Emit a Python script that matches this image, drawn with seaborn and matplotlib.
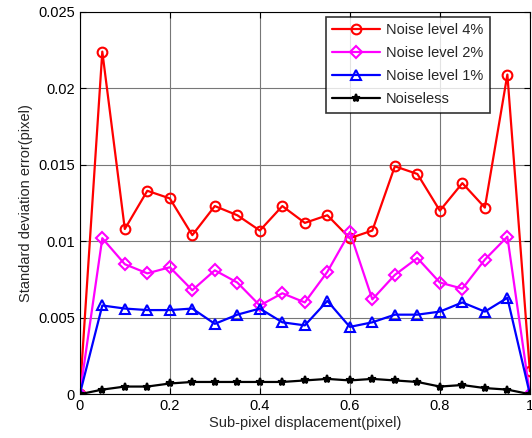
import matplotlib
matplotlib.use("Agg")
import matplotlib.pyplot as plt
import seaborn as sns
import numpy as np

x = [0, 0.05, 0.1, 0.15, 0.2, 0.25, 0.3, 0.35, 0.4, 0.45, 0.5,
     0.55, 0.6, 0.65, 0.7, 0.75, 0.8, 0.85, 0.9, 0.95, 1.0]
noise4 = [0, 0.0224, 0.0108, 0.0133, 0.0128, 0.0104, 0.0123, 0.0117, 0.0107, 0.0123, 0.0112,
          0.0117, 0.0102, 0.0107, 0.0149, 0.0144, 0.0120, 0.0138, 0.0122, 0.0209, 0.0015]
noise2 = [0, 0.0102, 0.0085, 0.0079, 0.0083, 0.0068, 0.0081, 0.0073, 0.0058, 0.0066, 0.0060,
          0.0080, 0.0106, 0.0062, 0.0078, 0.0089, 0.0073, 0.0069, 0.0088, 0.0103, 0.0]
noise1 = [0, 0.0058, 0.0056, 0.0055, 0.0055, 0.0056, 0.0046, 0.0052, 0.0056, 0.0047, 0.0045,
          0.0061, 0.0044, 0.0047, 0.0052, 0.0052, 0.0054, 0.0060, 0.0054, 0.0063, 0.0]
noiseless = [0, 0.0003, 0.0005, 0.0005, 0.0007, 0.0008, 0.0008, 0.0008, 0.0008, 0.0008, 0.0009,
             0.0010, 0.0009, 0.0010, 0.0009, 0.0008, 0.0005, 0.0006, 0.0004, 0.0003, 0.0]
labels = ["Noise level 4%", "Noise level 2%", "Noise level 1%", "Noiseless"]
xticks = [0, 0.2, 0.4, 0.6, 0.8, 1]
xticklabels = ["0", "0.2", "0.4", "0.6", "0.8", "1"]
yticks = [0, 0.005, 0.01, 0.015, 0.02, 0.025]
yticklabels = ["0", "0.005", "0.01", "0.015", "0.02", "0.025"]

sns.set_style("ticks")
plt.rcParams['font.family'] = ['Liberation Sans', 'DejaVu Sans']

fig = plt.figure(figsize=(5.32, 4.38), dpi=100)
ax = fig.add_axes([0.150, 0.100, 0.846, 0.873])

styles = [
    (noise4, "red", "o", 7, "none"),
    (noise2, "magenta", "D", 6, "none"),
    (noise1, "blue", "^", 7.5, "none"),
    (noiseless, "black", "*", 6, "black"),
]
for (ys, c, m, ms, fc), lab in zip(styles, labels):
    sns.lineplot(x=x, y=ys, ax=ax, color=c, marker=m, markersize=ms,
                 markerfacecolor=fc, markeredgecolor=c, markeredgewidth=1.5,
                 linewidth=1.6, label=lab)

ax.set_xlim(0, 1)
ax.set_ylim(0, 0.025)
ax.set_xticks(xticks)
ax.set_xticklabels(xticklabels)
ax.set_yticks(yticks)
ax.set_yticklabels(yticklabels)
ax.grid(True, color="#777777", linewidth=0.8, linestyle="-")
ax.tick_params(direction="in", top=True, right=True, labelsize=10.5, length=4, colors="black")
for s in ax.spines.values():
    s.set_color("black")
    s.set_linewidth(0.8)
ax.set_xlabel("Sub-pixel displacement(pixel)", fontsize=10.5, labelpad=2)
ax.set_ylabel("Standard deviation error(pixel)", fontsize=10.5, labelpad=4)

leg = ax.legend(loc="upper right", bbox_to_anchor=(0.918, 0.995), frameon=True,
                fancybox=False, edgecolor="black", fontsize=10.5,
                handlelength=3.3, borderpad=0.45, labelspacing=0.62, handletextpad=0.4,
                borderaxespad=0.2)
leg.get_frame().set_linewidth(1.2)

fig.savefig("out.png", dpi=100)
